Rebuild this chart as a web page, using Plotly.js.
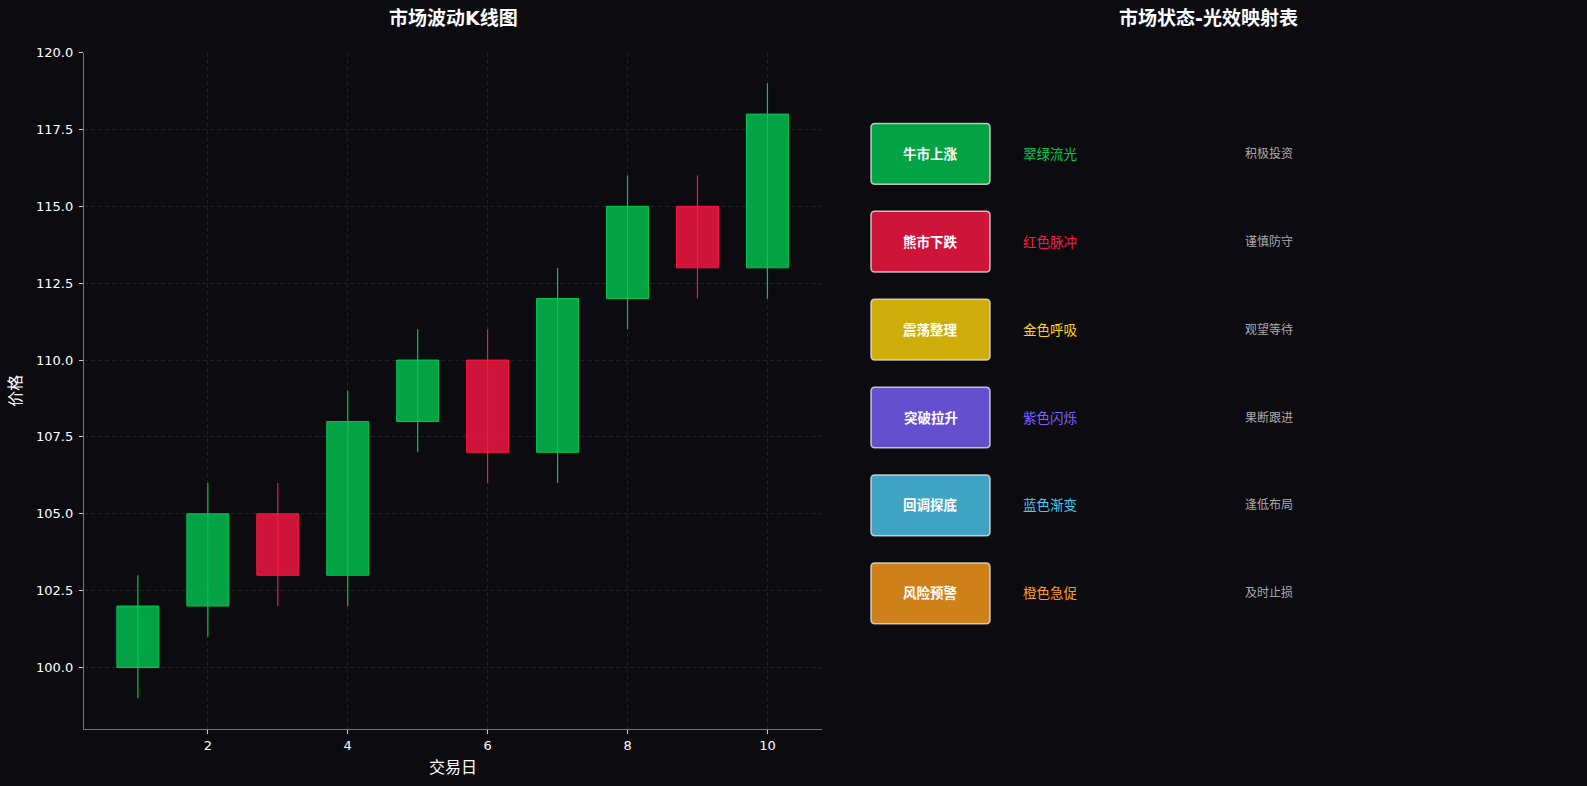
<!DOCTYPE html>
<html>
<head>
<meta charset="utf-8">
<script src="https://cdn.plot.ly/plotly-3.0.1.min.js"></script>
<style>
  html, body { margin: 0; padding: 0; background: #0b0b10; }
  #chart { width: 1587px; height: 786px; }
</style>
</head>
<body>
<div id="chart"></div>
<script>
// ---- data ----
const days   = [1, 2, 3, 4, 5, 6, 7, 8, 9, 10];
const opens  = [100, 102, 105, 103, 108, 110, 107, 112, 115, 113];
const closes = [102, 105, 103, 108, 110, 107, 112, 115, 113, 118];
const highs  = [103, 106, 106, 109, 111, 111, 113, 116, 116, 119];
const lows   = [ 99, 101, 102, 102, 107, 106, 106, 111, 112, 112];

const states  = ['牛市上涨', '熊市下跌', '震荡整理', '突破拉升', '回调探底', '风险预警'];
const effects = ['翠绿流光', '红色脉冲', '金色呼吸', '紫色闪烁', '蓝色渐变', '橙色急促'];
const advice  = ['积极投资', '谨慎防守', '观望等待', '果断跟进', '逢低布局', '及时止损'];
const stateColors = ['#00C853', '#FF1744', '#FFD60A', '#7B61FF', '#4CC9F0', '#FF9F1C'];

// ---- styles ----
const W = 1587, H = 786;
const BG = '#0b0b10';
const UP = '#00C853', DOWN = '#FF1744';
const FONT = 'DejaVu Sans, "Noto Sans CJK SC", sans-serif';
const X = px => px / W;
const Y = py => 1 - py / H;

function hexA(hex, a) {
  const n = parseInt(hex.slice(1), 16);
  return `rgba(${(n >> 16) & 255},${(n >> 8) & 255},${n & 255},${a})`;
}

const traces = [];
const upIdx = days.map((d, i) => i).filter(i => closes[i] >= opens[i]);
const dnIdx = days.map((d, i) => i).filter(i => closes[i] < opens[i]);
// bodies
[[upIdx, UP], [dnIdx, DOWN]].forEach(([idx, col]) => {
  traces.push({
    type: 'bar',
    x: idx.map(i => days[i]),
    base: idx.map(i => Math.min(opens[i], closes[i])),
    y: idx.map(i => Math.abs(closes[i] - opens[i])),
    width: 0.6,
    marker: { color: hexA(col, 0.8), line: { color: col, width: 1 } },
    hoverinfo: 'skip',
    showlegend: false
  });
});
// wicks
[[upIdx, UP], [dnIdx, DOWN]].forEach(([idx, col]) => {
  const xs = [], ys = [];
  idx.forEach(i => { xs.push(days[i], days[i], null); ys.push(lows[i], highs[i], null); });
  traces.push({
    type: 'scatter', mode: 'lines', x: xs, y: ys,
    line: { color: col, width: 1.2 },
    hoverinfo: 'skip', showlegend: false
  });
});

// ---- right panel ----
const shapes = [];
const annotations = [];
const boxL = 871, boxR = 990, boxH = 60.7, row0 = 153.8, rowStep = 87.9, rad = 4;
states.forEach((s, i) => {
  const cy = row0 + i * rowStep;
  const t = cy - boxH / 2, b = cy + boxH / 2;
  const p = [
    `M ${X(boxL + rad)} ${Y(t)}`,
    `L ${X(boxR - rad)} ${Y(t)}`,
    `Q ${X(boxR)} ${Y(t)} ${X(boxR)} ${Y(t + rad)}`,
    `L ${X(boxR)} ${Y(b - rad)}`,
    `Q ${X(boxR)} ${Y(b)} ${X(boxR - rad)} ${Y(b)}`,
    `L ${X(boxL + rad)} ${Y(b)}`,
    `Q ${X(boxL)} ${Y(b)} ${X(boxL)} ${Y(b - rad)}`,
    `L ${X(boxL)} ${Y(t + rad)}`,
    `Q ${X(boxL)} ${Y(t)} ${X(boxL + rad)} ${Y(t)}`,
    'Z'
  ].join(' ');
  shapes.push({
    type: 'path', xref: 'paper', yref: 'paper', path: p,
    fillcolor: hexA(stateColors[i], 0.8),
    line: { color: 'rgba(230,230,230,0.8)', width: 1.5 },
    layer: 'above'
  });
  annotations.push({
    xref: 'paper', yref: 'paper', x: X((boxL + boxR) / 2), y: Y(cy),
    text: '<b>' + s + '</b>', showarrow: false, xanchor: 'center', yanchor: 'middle',
    font: { family: FONT, size: 13.5, color: '#ffffff' }
  });
  annotations.push({
    xref: 'paper', yref: 'paper', x: X(1050), y: Y(cy),
    text: effects[i], showarrow: false, xanchor: 'center', yanchor: 'middle',
    font: { family: FONT, size: 13.5, color: stateColors[i] }
  });
  annotations.push({
    xref: 'paper', yref: 'paper', x: X(1269), y: Y(cy),
    text: advice[i], showarrow: false, xanchor: 'center', yanchor: 'middle',
    font: { family: FONT, size: 12, color: '#aaaaaa' }
  });
});

// titles
annotations.push({
  xref: 'paper', yref: 'paper', x: X(453), y: Y(18),
  text: '<b>市场波动K线图</b>', showarrow: false, xanchor: 'center', yanchor: 'middle',
  font: { family: FONT, size: 19, color: '#ffffff' }
});
annotations.push({
  xref: 'paper', yref: 'paper', x: X(1208), y: Y(18),
  text: '<b>市场状态-光效映射表</b>', showarrow: false, xanchor: 'center', yanchor: 'middle',
  font: { family: FONT, size: 19, color: '#ffffff' }
});

const GRID = '#252529';
const layout = {
  width: W, height: H,
  paper_bgcolor: BG, plot_bgcolor: BG,
  margin: { l: 0, r: 0, t: 0, b: 0 },
  showlegend: false,
  barmode: 'overlay',
  font: { family: FONT, color: '#ffffff' },
  xaxis: {
    domain: [X(84), X(822)],
    range: [0.23, 10.78],
    tick0: 0, dtick: 2,
    showgrid: true, gridcolor: GRID, griddash: '4px,3px', gridwidth: 0.8,
    zeroline: false,
    showline: true, linecolor: '#777777', linewidth: 1.2,
    ticks: 'outside', ticklen: 4, tickcolor: '#cccccc',
    tickfont: { family: FONT, size: 13, color: '#ffffff' },
    title: { text: '交易日', font: { family: FONT, size: 16, color: '#ffffff' }, standoff: 10 },
    automargin: false, fixedrange: true
  },
  yaxis: {
    domain: [Y(729), Y(52.6)],
    range: [98, 120],
    tick0: 100, dtick: 2.5, tickformat: '.1f',
    showgrid: true, gridcolor: GRID, griddash: '4px,3px', gridwidth: 0.8,
    zeroline: false,
    showline: true, linecolor: '#777777', linewidth: 1.2,
    ticks: 'outside', ticklen: 4, tickcolor: '#cccccc',
    ticklabelstandoff: 3,
    tickfont: { family: FONT, size: 13, color: '#ffffff' },
    title: { text: '价格', font: { family: FONT, size: 16, color: '#ffffff' }, standoff: 10 },
    automargin: false, fixedrange: true
  },
  shapes: shapes,
  annotations: annotations
};

Plotly.newPlot('chart', traces, layout, { displayModeBar: false, staticPlot: true });
</script>
</body>
</html>
